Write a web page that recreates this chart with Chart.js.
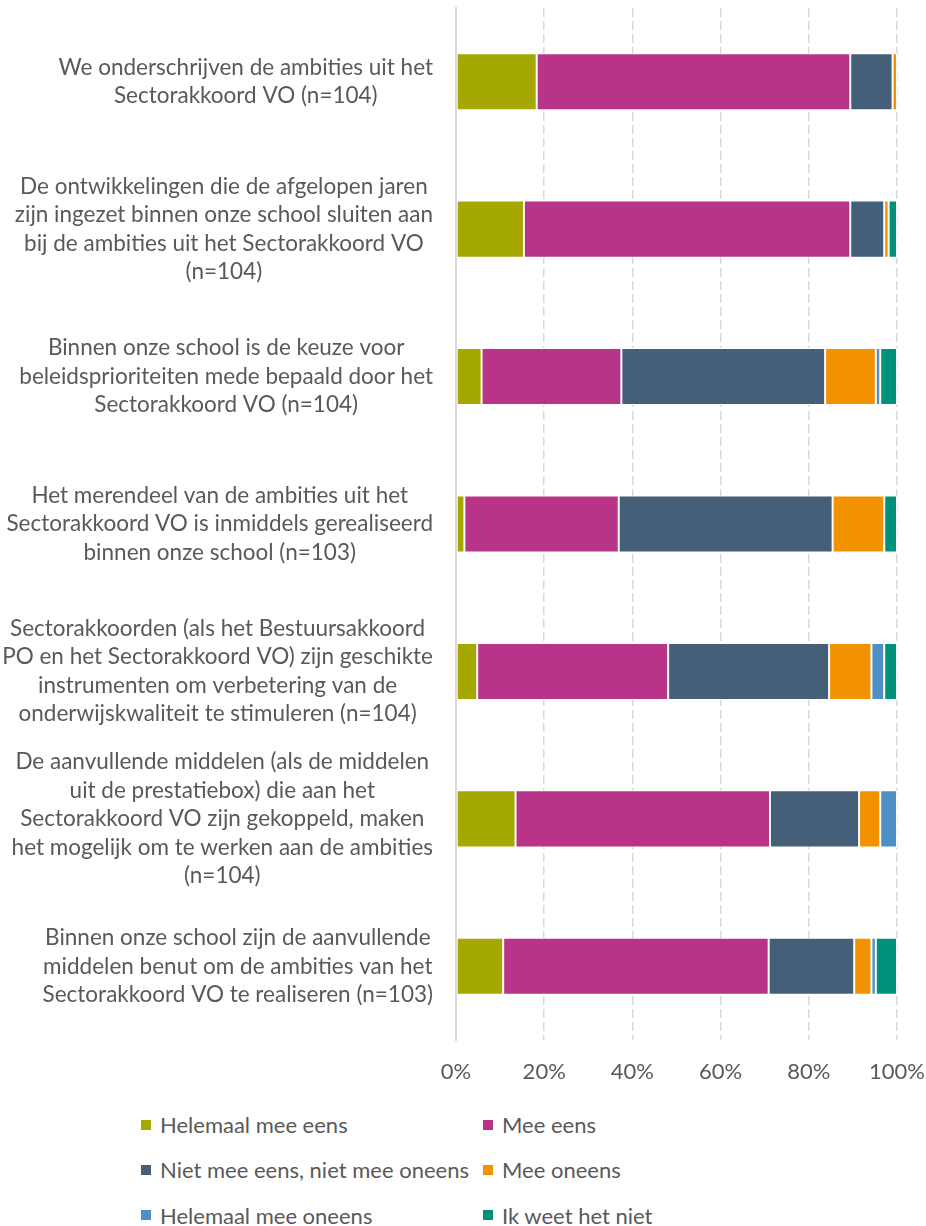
<!DOCTYPE html>
<html>
<head>
<meta charset="utf-8">
<script src="https://cdn.jsdelivr.net/npm/chart.js@4"></script>
<style>
  body { margin: 0; background: #fff; }
  #wrap { position: relative; width: 926px; height: 1226px; }
  #chart { position: absolute; left: 0; top: 0; }
  .legend-item {
    position: absolute;
    display: flex;
    align-items: center;
    height: 30px;
    font: 22px Lato, sans-serif;
    color: #595959;
    white-space: nowrap;
  }
  .legend-item span.box { width: 10px; height: 10px; margin-right: 9px; }
</style>
</head>
<body>
<div id="wrap">
  <canvas id="chart" width="926" height="1095"></canvas>
  <div id="legend"></div>
</div>
<script>
// categories (one array of lines per bar)
const categories = [
  ["We onderschrijven de ambities uit het", "Sectorakkoord VO (n=104)"],
  ["De ontwikkelingen die de afgelopen jaren", "zijn ingezet binnen onze school sluiten aan", "bij de ambities uit het Sectorakkoord VO", "(n=104)"],
  ["Binnen onze school is de keuze voor", "beleidsprioriteiten mede bepaald door het", "Sectorakkoord VO (n=104)"],
  ["Het merendeel van de ambities uit het", "Sectorakkoord VO is inmiddels gerealiseerd", "binnen onze school (n=103)"],
  ["Sectorakkoorden (als het Bestuursakkoord", "PO en het Sectorakkoord VO) zijn geschikte", "instrumenten om verbetering van de", "onderwijskwaliteit te stimuleren (n=104)"],
  ["De aanvullende middelen (als de middelen", "uit de prestatiebox) die aan het", "Sectorakkoord VO zijn gekoppeld, maken", "het mogelijk om te werken aan de ambities", "(n=104)"],
  ["Binnen onze school zijn de aanvullende", "middelen benut om de ambities van het", "Sectorakkoord VO te realiseren (n=103)"]
];

const seriesNames = [
  "Helemaal mee eens",
  "Mee eens",
  "Niet mee eens, niet mee oneens",
  "Mee oneens",
  "Helemaal mee oneens",
  "Ik weet het niet",
];

// percentages per answer
const helemaalEens = [18.3, 15.4, 5.8, 1.9, 4.8, 13.5, 10.7];
const meeEens = [71.1, 74.0, 31.7, 35.0, 43.3, 57.7, 60.2];
const neutraal = [9.6, 7.7, 46.2, 48.5, 36.5, 20.2, 19.4];
const meeOneens = [1.0, 1.0, 11.5, 11.7, 9.6, 4.8, 3.9];
const helemaalOneens = [0, 0, 1.0, 0, 2.9, 3.8, 1.0];
const weetNiet = [0, 1.9, 3.8, 2.9, 2.9, 0, 4.8];

const xTicks = [0, 20, 40, 60, 80, 100];

const colors = ["#A5A800", "#B83489", "#465F78", "#F29200", "#4E8FC6", "#00917A"];
const textColor = "#595959";
const fontFamily = "Lato, sans-serif";

const seriesValues = [helemaalEens, meeEens, neutraal, meeOneens, helemaalOneens, weetNiet];

// draws the wrapped category labels, every label block centred on itself
const yLabelPlugin = {
  id: "yLabels",
  afterDraw(chart) {
    const ctx = chart.ctx;
    const yScale = chart.scales.y;
    const labelRight = 433;
    const lineGap = 28.5;
    ctx.save();
    ctx.font = "22.5px " + fontFamily;
    ctx.fillStyle = textColor;
    ctx.textAlign = "center";
    ctx.textBaseline = "middle";
    chart.data.labels.forEach((lines, i) => {
      const widest = Math.max(...lines.map((l) => ctx.measureText(l).width));
      const cx = labelRight - widest / 2;
      const cy = yScale.getPixelForValue(i);
      lines.forEach((line, j) => {
        ctx.fillText(line, cx, cy + (j - (lines.length - 1) / 2) * lineGap);
      });
    });
    ctx.restore();
  },
};

const chart = new Chart(document.getElementById("chart"), {
  type: "bar",
  data: {
    labels: categories,
    datasets: seriesNames.map((name, i) => ({
      label: name,
      data: seriesValues[i],
      backgroundColor: colors[i],
      borderColor: "#ffffff",
      borderWidth: 1,
      borderSkipped: false,
      barPercentage: 0.387,
      categoryPercentage: 1,
    })),
  },
  options: {
    indexAxis: "y",
    responsive: false,
    animation: false,
    layout: { padding: { top: 8, right: 29, left: 0, bottom: 0 } },
    plugins: {
      legend: { display: false },
      tooltip: { enabled: false },
    },
    scales: {
      x: {
        stacked: true,
        min: 0,
        max: 100,
        afterBuildTicks: (scale) => {
          scale.ticks = xTicks.map((v) => ({ value: v }));
        },
        ticks: {
          callback: (v) => v + "%",
          color: textColor,
          font: { family: fontFamily, size: 22 },
          padding: 19,
          maxRotation: 0,
        },
        grid: {
          color: (c) => (c.index === 0 ? "rgba(0,0,0,0)" : "#D9D9D9"),
          lineWidth: 1.5,
          drawTicks: false,
        },
        border: { display: false, dash: [9, 4] },
        afterFit: (scale) => {
          scale.height = 55;
          // the "100%" label may hang over the edge, like in the original
          scale.paddingLeft = 0;
          scale.paddingRight = 0;
        },
      },
      y: {
        stacked: true,
        ticks: { display: false },
        grid: { display: false },
        border: { display: true, color: "#D9D9D9", width: 2 },
        afterFit: (scale) => {
          scale.width = 456;
        },
      },
    },
  },
  plugins: [yLabelPlugin],
});

// legend in two columns, built from the chart's datasets
const legendEl = document.getElementById("legend");
const colLeft = [141, 483];
const rowMid = [1124.5, 1169.5, 1215];
chart.data.datasets.forEach((ds, i) => {
  const item = document.createElement("div");
  item.className = "legend-item";
  item.style.left = colLeft[i % 2] + "px";
  item.style.top = rowMid[Math.floor(i / 2)] - 15 + "px";
  item.innerHTML = '<span class="box" style="background:' + ds.backgroundColor + '"></span>' + ds.label;
  legendEl.appendChild(item);
});
</script>
</body>
</html>
